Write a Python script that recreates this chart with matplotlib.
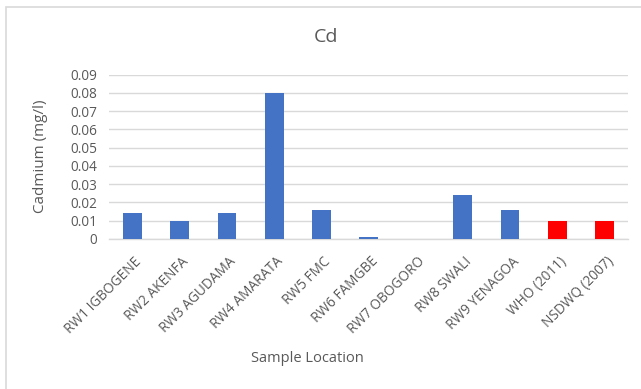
import matplotlib.pyplot as plt
from matplotlib.patches import Rectangle
from matplotlib.transforms import ScaledTranslation

locations = ["RW1 IGBOGENE", "RW2 AKENFA", "RW3 AGUDAMA", "RW4 AMARATA",
             "RW5 FMC", "RW6 FAMGBE", "RW7 OBOGORO", "RW8 SWALI",
             "RW9 YENAGOA", "WHO (2011)", "NSDWQ (2007)"]
cadmium = [0.014, 0.010, 0.014, 0.080, 0.016, 0.001, 0.0, 0.024, 0.016, 0.010, 0.010]
colors = ["#4472C4"] * 9 + ["#FF0000"] * 2
yticks = [0, 0.01, 0.02, 0.03, 0.04, 0.05, 0.06, 0.07, 0.08, 0.09]

grey = "#595959"
plt.rcParams["font.family"] = ["Open Sans", "DejaVu Sans"]

W, H = 641, 389
fig = plt.figure(figsize=(W / 100, H / 100), dpi=100)
ax = fig.add_axes([109 / W, 1 - 239 / H, (628 - 109) / W, (239 - 74.7) / H])

x = list(range(len(locations)))
ax.bar(x, cadmium, width=0.4, color=colors, zorder=3)

ax.set_xlim(-0.5, len(locations) - 0.5)
ax.set_ylim(0, 0.09)
ax.set_yticks(yticks)
ax.set_yticklabels([("%g" % v) for v in yticks], fontsize=9.8, color=grey)
ax.yaxis.grid(True, color="#d9d9d9", linewidth=1, zorder=0)
ax.tick_params(axis="y", length=0, pad=8.5)
ax.tick_params(axis="x", length=0, pad=4)
for side in ["top", "right", "left"]:
    ax.spines[side].set_visible(False)
ax.spines["bottom"].set_color("#d9d9d9")
ax.spines["bottom"].set_linewidth(1)

ax.set_xticks(x)
ax.set_xticklabels(locations, rotation=45, ha="right", va="center",
                   rotation_mode="anchor", fontsize=9.8, color=grey)
shift = ScaledTranslation(0.07, -0.15, fig.dpi_scale_trans)
for lbl in ax.get_xticklabels():
    lbl.set_transform(lbl.get_transform() + shift)

fig.text(40 / W, 1 - 156 / H, "Cadmium (mg/l)", rotation=90, ha="center", va="center",
         fontsize=11, color=grey)
fig.text(326 / W, 1 - 37 / H, "Cd", ha="center", va="center", fontsize=14, color=grey)
fig.text(307 / W, 1 - 358 / H, "Sample Location", ha="center", va="center",
         fontsize=10.5, color=grey)

# chart area border (only top and left edges visible)
fig.add_artist(Rectangle((5.5 / W, -0.1), 1.2, 1 - 6.5 / H + 0.1, transform=fig.transFigure,
                         fill=False, edgecolor="#d9d9d9", linewidth=1.2))

fig.savefig("out.png", dpi=100)
